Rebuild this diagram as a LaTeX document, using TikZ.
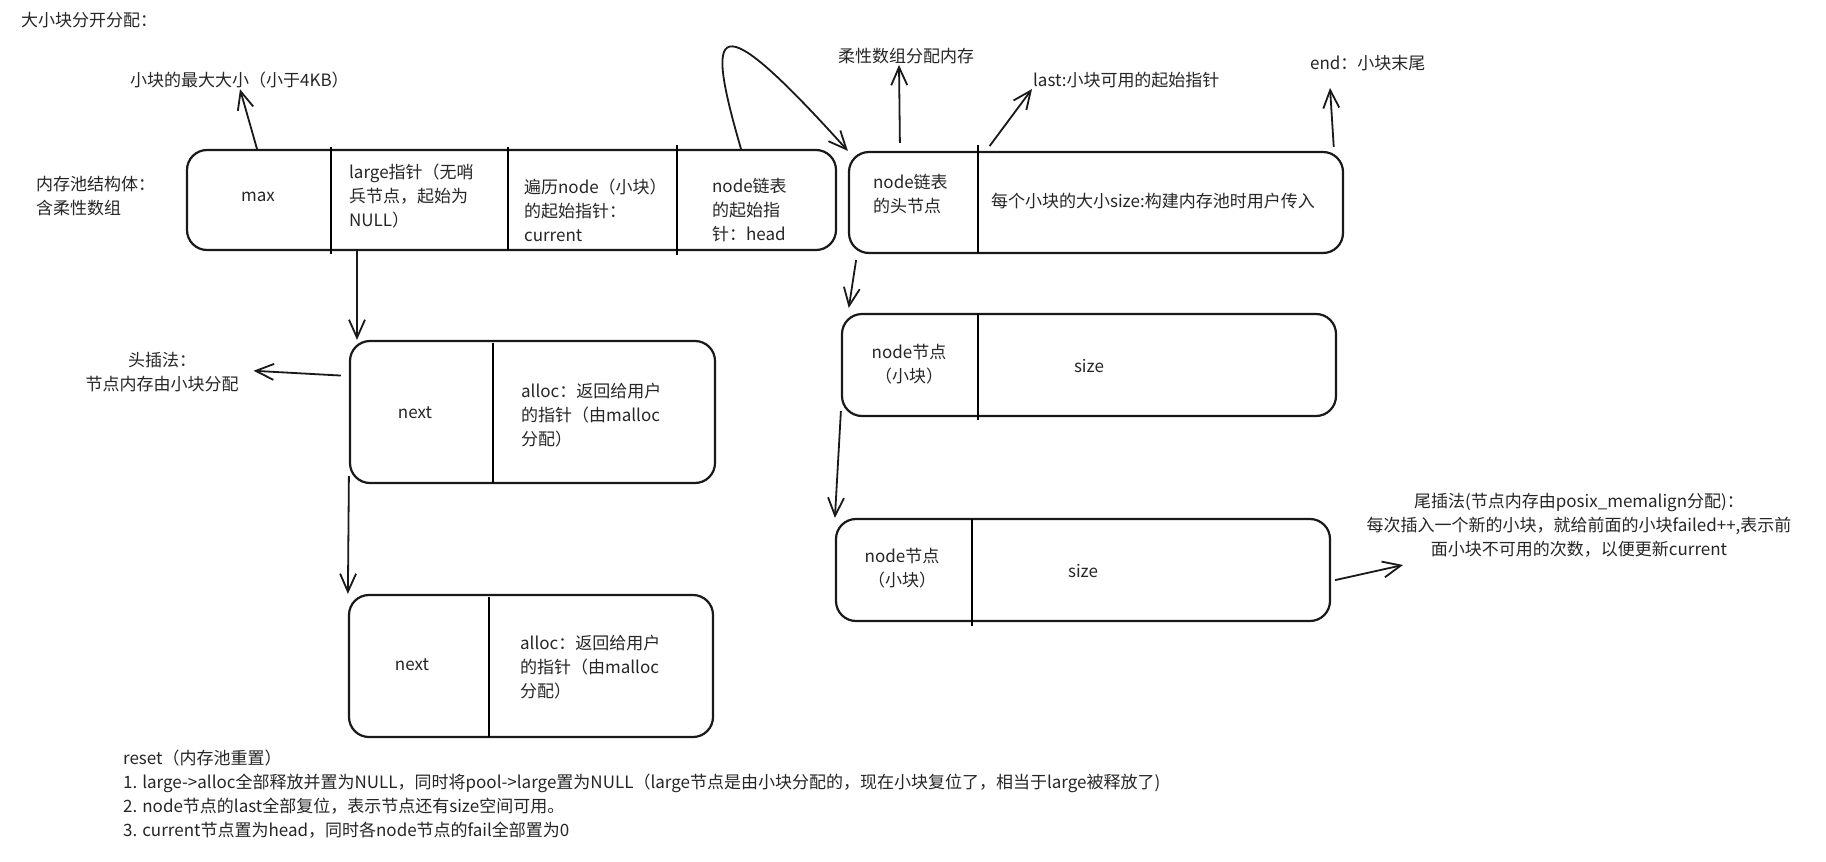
\documentclass[tikz,border=0pt]{standalone}
\usepackage{fontspec}
\setmainfont{Noto Sans CJK SC}
\usetikzlibrary{arrows.meta, fit}

\begin{document}
\begin{tikzpicture}[x=0.5pt, y=-0.5pt, line width=1.1pt,
  font=\fontsize{8.5}{12}\selectfont,
  box/.style={draw=black!90, rounded corners=10pt, inner sep=0pt},
  txt/.style={inner sep=0pt, align=left, text=black!85},
  arr/.style={-{Straight Barb[length=9pt, width=8pt]}, line width=0.9pt, draw=black!90}]
  \path[fill=white] (0,0) rectangle (1826,862);
  \useasboundingbox (0,0) rectangle (1826,862);

  \node[txt, anchor=west] (title) at (20,20) {大小块分开分配：};

  % 内存池结构体
  \node[box, fit={(187,150) (836,250)}] (pool) {};
  \draw (331,147) -- (331,254);
  \draw (508,147) -- (508,250);
  \draw (677,145) -- (677,255);
  \node[txt] (max) at (258,197) {max};
  \node[txt, anchor=west] (large) at (348,196) {large指针（无哨\\兵节点，起始为\\NULL）};
  \node[txt, anchor=west] (cur) at (523,210) {遍历node（小块）\\的起始指针：\\current};
  \node[txt, anchor=west] (hd) at (711,210) {node链表\\的起始指\\针：head};
  \node[txt, anchor=west] (poollbl) at (35,196) {内存池结构体：\\含柔性数组};

  % 柔性数组：头节点
  \node[box, fit={(849,152) (1343,253)}] (head) {};
  \draw (978,145) -- (978,253);
  \node[txt, anchor=west] (headname) at (872,194) {node链表\\的头节点};
  \node[txt, anchor=west] (headsize) at (990,201) {每个小块的大小size:构建内存池时用户传入};

  % 上方说明
  \node[txt, anchor=west] (maxlbl) at (129,80) {小块的最大大小（小于4KB）};
  \node[txt, anchor=west] (flexlbl) at (837,56) {柔性数组分配内存};
  \node[txt, anchor=west] (lastlbl) at (1032,80) {last:小块可用的起始指针};
  \node[txt, anchor=west] (endlbl) at (1309,63) {end：小块末尾};

  \draw[arr] (pool.north -| 257,0) -- (maxlbl.south -| 240,0);
  \draw[arr, shorten <=4pt] (head.north -| 900,0) -- (flexlbl.south -| 899,0);
  \draw[arr, shorten <=3pt] (head.north -| 986,0) -- (lastlbl.south west);
  \draw[arr, shorten <=2pt, shorten >=8pt] (head.north -| 1334,0) -- (endlbl.south -| 1329,0);
  \draw[arr] (pool.north -| 741,0) .. controls (705,25) and (712,0) .. (head.north west);

  % large 链表（头插法）
  \node[box, fit={(350,341) (715,483)}] (big1) {};
  \draw (493,343) -- (493,483);
  \node[txt] (next1) at (415,413) {next};
  \node[txt, anchor=west] (alloc1) at (520,415) {alloc：返回给用户\\的指针（由malloc\\分配）};

  \node[box, fit={(349,595) (713,737)}] (big2) {};
  \draw (489,597) -- (489,737);
  \node[txt] (next2) at (412,665) {next};
  \node[txt, anchor=west] (alloc2) at (519,667) {alloc：返回给用户\\的指针（由malloc\\分配）};

  \node[txt, align=center] (headins) at (162,372) {头插法：\\节点内存由小块分配};

  \draw[arr] (pool.south -| 357,0) -- (big1.north -| 357,0);
  \draw[arr] ([yshift=4pt]big1.south west) -- (big2.north west);
  \draw[arr, shorten <=4pt, shorten >=7pt] (big1.west |- 0,376) -- (headins.east |- 0,370);

  % 小块链表（尾插法）
  \node[box, fit={(842,314) (1336,416)}] (blkA) {};
  \draw (978,314) -- (978,420);
  \node[txt, align=center] (nameA) at (909,364) {node节点\\（小块）};
  \node[txt] (sizeA) at (1089,366) {size};

  \node[box, fit={(836,519) (1330,621)}] (blkB) {};
  \draw (972,519) -- (972,626);
  \node[txt, align=center] (nameB) at (902,568) {node节点\\（小块）};
  \node[txt] (sizeB) at (1083,571) {size};

  \node[txt, align=center] (tailins) at (1579,525) {尾插法(节点内存由posix\_memalign分配)：\\每次插入一个新的小块，就给前面的小块failed++,表示前\\面小块不可用的次数，以便更新current};
  \coordinate (tailtip) at (1403,565);

  \draw[arr, shorten <=3pt, shorten >=2.5pt] (head.south -| 857,0) -- (blkA.north -| 848,0);
  \draw[arr] ([yshift=3pt]blkA.south west) -- (blkB.north west);
  \draw[arr, shorten <=2pt] (blkB.east |- 0,581) -- (tailtip);

  % reset
  \node[txt, anchor=west] (reset) at (122,794) {reset（内存池重置）\\1. large->alloc全部释放并置为NULL，同时将pool->large置为NULL（large节点是由小块分配的，现在小块复位了，相当于large被释放了)\\2. node节点的last全部复位，表示节点还有size空间可用。\\3. current节点置为head，同时各node节点的fail全部置为0};
\end{tikzpicture}
\end{document}
